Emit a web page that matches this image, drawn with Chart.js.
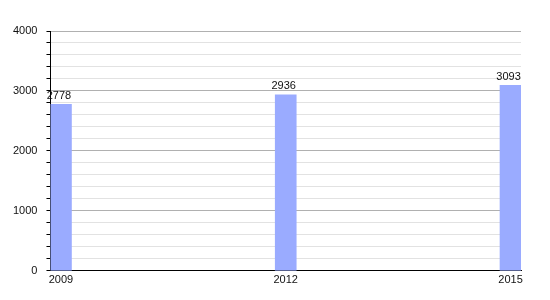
<!DOCTYPE html>
<html>
<head>
<meta charset="utf-8">
<script src="https://cdn.jsdelivr.net/npm/chart.js@4/dist/chart.umd.min.js"></script>
<style>
  html, body { margin: 0; padding: 0; background: #fff; }
  #wrap { width: 550px; height: 300px; }
</style>
</head>
<body>
<div id="wrap"><canvas id="popChart" width="550" height="300"></canvas></div>
<script>
// === Data ===
const years = [2009, 2012, 2015];
const population = [2778, 2936, 3093];
const yTickLabels = [0, 1000, 2000, 3000, 4000];

// value labels above each bar
const barLabels = {
  id: 'barLabels',
  afterDatasetsDraw(chart) {
    const ctx = chart.ctx;
    const meta = chart.getDatasetMeta(0);
    ctx.save();
    ctx.font = '11px "Liberation Sans", Arial, sans-serif';
    ctx.fillStyle = '#111';
    ctx.textAlign = 'center';
    ctx.textBaseline = 'bottom';
    meta.data.forEach((bar, i) => {
      ctx.fillText(population[i], bar.x - 2, bar.y - 3);
    });
    ctx.restore();
  }
};

new Chart(document.getElementById('popChart'), {
  type: 'bar',
  data: {
    datasets: [{
      data: years.map((y, i) => ({ x: y, y: population[i] })),
      backgroundColor: '#9aabff',
      borderWidth: 0,
      barThickness: 21
    }]
  },
  options: {
    responsive: false,
    animation: false,
    layout: { padding: { top: 31, right: 29, left: 4, bottom: 10 } },
    plugins: { legend: { display: false }, tooltip: { enabled: false } },
    scales: {
      x: {
        type: 'linear',
        offset: false,
        min: 2008.86,
        max: 2015.14,
        afterBuildTicks: (scale) => { scale.ticks = years.map(v => ({ value: v })); },
        ticks: {
          color: '#111',
          padding: 3,
          maxRotation: 0,
          font: { size: 11, family: '"Liberation Sans", Arial, sans-serif' },
          callback: (v) => String(v)
        },
        grid: { display: false, drawTicks: false },
        border: { color: '#000', width: 1 }
      },
      y: {
        min: 0,
        max: 4000,
        ticks: {
          stepSize: 200,
          autoSkip: false,
          padding: 9,
          color: '#111',
          font: { size: 11, family: '"Liberation Sans", Arial, sans-serif' },
          callback: (v) => yTickLabels.includes(v) ? String(v) : ''
        },
        grid: {
          tickLength: 4,
          color: (c) => c.tick && c.tick.value % 1000 === 0 ? '#b0b0b0' : '#e2e2e2',
          tickColor: '#000'
        },
        border: { color: '#000', width: 1 }
      }
    }
  },
  plugins: [barLabels]
});
</script>
</body>
</html>
